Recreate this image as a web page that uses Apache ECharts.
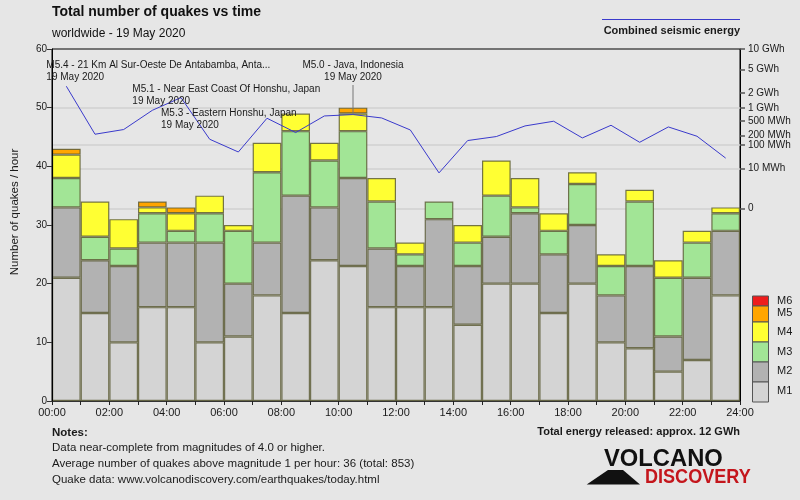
<!DOCTYPE html>
<html><head><meta charset="utf-8">
<script src="https://cdn.jsdelivr.net/npm/echarts@6/dist/echarts.min.js"></script>
<style>html,body{margin:0;padding:0;background:#e6e6e6}#c{width:800px;height:500px}</style>
</head><body><div id="c"></div>
<script>
// ---- data ----
const hourLabels = ['00:00','01:00','02:00','03:00','04:00','05:00','06:00','07:00','08:00','09:00','10:00','11:00',
                    '12:00','13:00','14:00','15:00','16:00','17:00','18:00','19:00','20:00','21:00','22:00','23:00'];
const m1 = [21,15,10,16,16,10,11,18,15,24,23,16,16,16,13,20,20,15,20,10,9,5,7,18];
const m2 = [12,9,13,11,11,17,9,9,20,9,15,10,7,15,10,8,12,10,10,8,14,6,14,11];
const m3 = [5,4,3,5,2,5,9,12,11,8,8,8,2,3,4,7,1,4,7,5,11,10,6,3];
const m4 = [4,6,5,1,3,3,1,5,3,3,3,4,2,0,3,6,5,3,2,2,2,3,2,1];
const m5 = [1,0,0,1,1,0,0,0,0,0,1,0,0,0,0,0,0,0,0,0,0,0,0,0];
const m6 = [0,0,0,0,0,0,0,0,0,0,0,0,0,0,0,0,0,0,0,0,0,0,0,0];
// combined seismic energy per hour, MWh
const energyMWh = [2640,217,295,880,1620,153,55,577,243,654,705,586,287,5.4,139,185,369,487,168,384,122,347,189,31];
const energyTicks = [0,10,100,200,500,1000,2000,5000,10000];
const energyTickLabels = ['0','10 MWh','100 MWh','200 MWh','500 MWh','1 GWh','2 GWh','5 GWh','10 GWh'];
const energyGridLines = [0,10,100,1000];
const xTickHours = [0,2,4,6,8,10,12,14,16,18,20,22,24];
// annotations of strongest quakes
const annHour = [0,3,4,10];
const annTitle = ['M5.4 - 21 Km Al Sur-Oeste De Antabamba, Anta...','M5.1 - Near East Coast Of Honshu, Japan','M5.3 - Eastern Honshu, Japan','M5.0 - Java, Indonesia'];
const annDate = ['19 May 2020','19 May 2020','19 May 2020','19 May 2020'];

// ---- styles ----
const FONT = '"Liberation Sans", Arial, sans-serif';
const TXT = '#1a1a1a';
const magNames = ['M1','M2','M3','M4','M5','M6'];
const magColors = ['#d4d4d4','#b2b2b2','#a2e596','#ffff33','#ffa500','#ee1c1c'];
const magData = [m1,m2,m3,m4,m5,m6];
const EXP = 0.2;                       // energy axis uses E^0.2 scale
const tr = e => Math.pow(e, EXP);
const eMax = tr(10000);
const eMin = eMax - 13.946;            // puts 0 energy at proper height
const annLayout = [
  {dx:-20, top:59, align:'left'},
  {dx:-20, top:83, align:'left'},
  {dx:-20, top:107, align:'left'},
  {dx:0, top:59, align:'center', connector:true}
];

const chart = echarts.init(document.getElementById('c'), null, {renderer:'canvas'});

const barSeries = magData.map((arr, k) => ({
  name: magNames[k], type:'bar', stack:'q', xAxisIndex:0, yAxisIndex:0,
  barCategoryGap:'0%', z:10,
  data: arr.map(v => v === 0 ? '-' : v),
  itemStyle:{color:magColors[k], borderColor:'rgba(85,85,45,0.8)', borderWidth:1.2}
}));

const option = {
  animation:false,
  backgroundColor:'#e6e6e6',
  textStyle:{fontFamily:FONT},
  title:{
    text:'Total number of quakes vs time', subtext:'worldwide - 19 May 2020',
    left:52, top:5, padding:0, itemGap:9,
    textStyle:{fontSize:14, fontWeight:'bold', color:'#111', fontFamily:FONT},
    subtextStyle:{fontSize:12, color:'#111', fontFamily:FONT}
  },
  grid:{left:52, right:60, top:49, bottom:99, containLabel:false, outerBoundsMode:'none',
        show:true, borderColor:'#000', borderWidth:1, backgroundColor:'transparent'},
  xAxis:[
    {type:'category', data:hourLabels, show:false, boundaryGap:true, position:'bottom'},
    {type:'value', min:0, max:24, interval:1, position:'bottom', z:12,
     axisLine:{onZero:false, lineStyle:{color:'#333', width:1}},
     axisTick:{show:true, length:4, lineStyle:{color:'#222'}},
     axisLabel:{fontSize:11, color:TXT, margin:6,
       formatter: v => xTickHours.indexOf(v) >= 0 ? String(v).padStart(2,'0') + ':00' : ''},
     splitLine:{show:false}}
  ],
  yAxis:[
    {type:'value', min:0, max:60, interval:10, position:'left', z:12,
     axisLine:{show:true, onZero:false, lineStyle:{color:'#000'}},
     axisTick:{show:true, length:5, lineStyle:{color:'#333'}},
     axisLabel:{fontSize:10, color:TXT, margin:5},
     splitLine:{show:false}},
    {type:'value', min:eMin, max:eMax, position:'right', z:12,
     axisLine:{show:true, onZero:false, lineStyle:{color:'#000'}},
     axisTick:{show:true, length:5, lineStyle:{color:'#555', width:1.5}, customValues: energyTicks.map(tr)},
     axisLabel:{fontSize:10, color:TXT, margin:8, customValues: energyTicks.map(tr),
       formatter: v => {
         let best = 0, bd = 1e9;
         energyTicks.forEach((e,i) => { const d = Math.abs(tr(e) - v); if (d < bd) { bd = d; best = i; } });
         return energyTickLabels[best];
       }},
     splitLine:{show:false}}
  ],
  series: [
    {type:'line', name:'grid', xAxisIndex:0, yAxisIndex:1, data:[], z:1, silent:true,
     markLine:{silent:true, symbol:'none', z:1, label:{show:false}, animation:false,
       lineStyle:{color:'#d0d0d0', type:'solid', width:1.5},
       data: energyGridLines.map(e => ({yAxis: tr(e)}))}},
    ...barSeries,
    {type:'line', name:'Combined seismic energy', xAxisIndex:0, yAxisIndex:1, z:14,
     data: energyMWh.map(tr), symbol:'none', lineStyle:{color:'#3a3acc', width:1}}
  ]
};
chart.setOption(option);

// ---- graphic overlays: annotations, legend, notes, logo ----
const lineIdx = option.series.length - 1;
const g = [];
annHour.forEach((h, i) => {
  const p = chart.convertToPixel({seriesIndex:lineIdx}, [h, tr(energyMWh[h])]);
  const L = annLayout[i];
  g.push({type:'text', z:20, style:{
    text: annTitle[i] + '\n' + annDate[i], x: p[0] + L.dx, y: L.top,
    align: L.align, verticalAlign:'top', fontSize:10, lineHeight:12, fontFamily:FONT, fill:TXT}});
  if (L.connector) {
    g.push({type:'line', z:20, shape:{x1:p[0], y1:L.top + 26, x2:p[0], y2:p[1]}, style:{stroke:'#777', lineWidth:1}});
  }
});
// left axis title
g.push({type:'text', x:15, y:212, rotation:Math.PI/2, style:{text:'Number of quakes / hour', x:0, y:0,
  align:'center', verticalAlign:'middle', fontSize:11.5, fontFamily:FONT, fill:TXT}});
// energy line legend
g.push({type:'line', shape:{x1:602, y1:19.5, x2:740, y2:19.5}, style:{stroke:'#3a3acc', lineWidth:1}});
g.push({type:'text', style:{text:'Combined seismic energy', x:740, y:31, align:'right', verticalAlign:'middle',
  fontSize:11, fontWeight:'bold', fontFamily:FONT, fill:TXT}});
// magnitude legend (stacked boxes)
const legBoxes = [[296,306],[306,322],[322,342],[342,362],[362,382],[382,402]];
const legTextY = [300.7,313,331.7,351.7,371,391];
for (let k = 5; k >= 0; k--) {
  const b = legBoxes[5-k];
  g.push({type:'rect', shape:{x:752.5, y:b[0], width:16, height:b[1]-b[0]},
    style:{fill:magColors[k], stroke:'#555', lineWidth:1}});
  g.push({type:'text', style:{text:magNames[k], x:777, y:legTextY[5-k], verticalAlign:'middle',
    fontSize:11, fontFamily:FONT, fill:TXT}});
}
// notes
g.push({type:'text', style:{text:'Notes:', x:52, y:432.5, verticalAlign:'middle', fontSize:11.5, fontWeight:'bold', fontFamily:FONT, fill:TXT}});
const notes = ['Data near-complete from magnitudes of 4.0 or higher.',
  'Average number of quakes above magnitude 1 per hour: 36 (total: 853)',
  'Quake data: www.volcanodiscovery.com/earthquakes/today.html'];
notes.forEach((t, i) => g.push({type:'text', style:{text:t, x:52, y:447.5 + i*16, verticalAlign:'middle',
  fontSize:11.5, fontFamily:FONT, fill:TXT}}));
g.push({type:'text', style:{text:'Total energy released: approx. 12 GWh', x:740, y:431.5, align:'right', verticalAlign:'middle',
  fontSize:11, fontWeight:'bold', fontFamily:FONT, fill:TXT}});
// logo
g.push({type:'polygon', shape:{points:[[586.7,484.5],[608,470],[623,470],[640,484.5]]}, style:{fill:'#111'}});
g.push({type:'text', x:604, y:459, scaleX:0.99, style:{text:'VOLCANO', x:0, y:0, verticalAlign:'middle',
  fontSize:24, fontWeight:'bold', fontFamily:FONT, fill:'#111'}});
g.push({type:'text', x:645, y:477, scaleX:0.86, style:{text:'DISCOVERY', x:0, y:0, verticalAlign:'middle',
  fontSize:21, fontWeight:'bold', fontFamily:FONT, fill:'#c4161c'}});
chart.setOption({graphic:g});
</script></body></html>
